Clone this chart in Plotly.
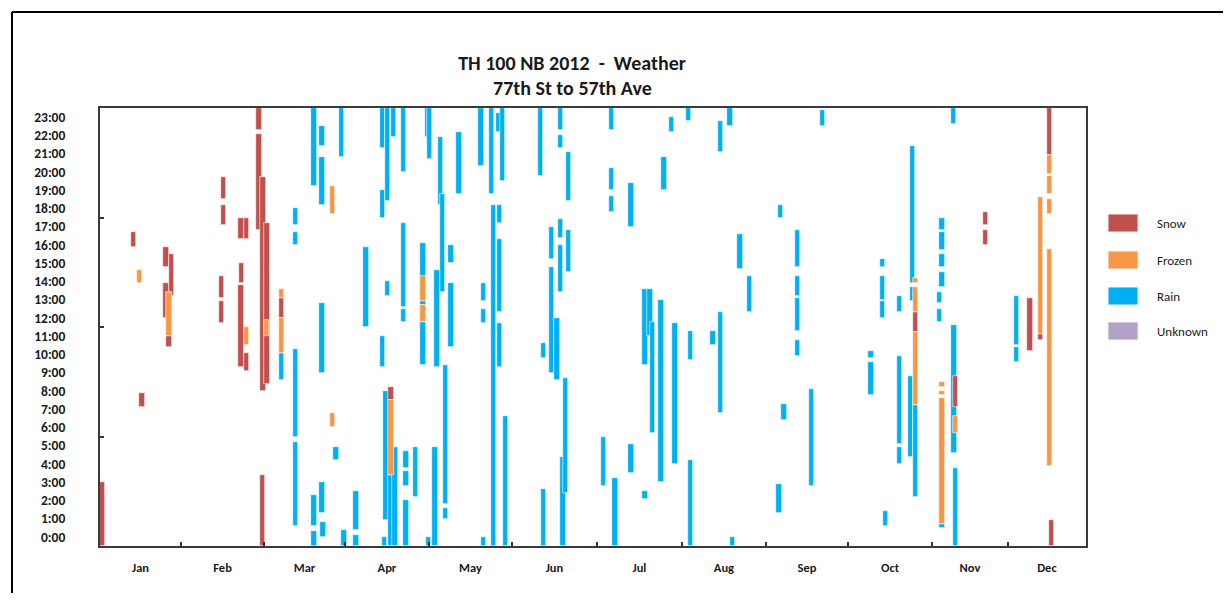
import plotly.graph_objects as go

# weather spells: (day of year, from hour, to hour)
snow_spells = [
    (0.7, 0, 3.5), (12.5, 16.4, 17.2), (15.6, 7.6, 8.4),
    (24.5, 15.3, 16.4), (24.5, 12.5, 14.4), (26.6, 13.7, 16.0), (25.6, 10.9, 11.5),
    (45.9, 19.0, 20.2), (45.9, 17.6, 18.7), (45.2, 13.6, 14.8), (45.2, 12.2, 13.4),
    (52.3, 16.8, 18.0), (54.4, 16.8, 18.0), (52.5, 14.4, 15.5), (52.3, 9.8, 14.3),
    (54.4, 9.6, 10.6),
    (59.0, 22.8, 24.0), (59.0, 17.3, 22.6), (60.5, 8.5, 20.2), (62.0, 8.9, 17.7),
    (60.3, 0, 3.9), (67.3, 12.5, 13.6),
    (108.0, 8.0, 8.7),
    (302.7, 11.7, 12.8), (302.7, 13.3, 13.4), (302.7, 13.7, 13.8),
    (317.6, 7.6, 9.3),
    (328.7, 17.6, 18.3), (328.7, 16.5, 17.3), (345.2, 10.7, 13.6),
    (349.0, 11.3, 11.6), (352.4, 21.4, 24.0), (353.2, 0, 1.4),
]

frozen_spells = [
    (14.6, 14.4, 15.1), (25.6, 11.5, 13.9), (54.4, 11.0, 12.0), (61.8, 11.5, 12.4),
    (67.3, 13.6, 14.1), (67.3, 10.6, 12.5), (86.4, 18.2, 19.7), (86.4, 6.5, 7.3),
    (108.0, 3.9, 8.0), (119.9, 13.4, 14.8), (119.9, 12.3, 13.2),
    (302.7, 14.4, 14.7), (302.7, 12.8, 14.2), (302.7, 7.7, 11.7),
    (312.6, 8.7, 9.0), (312.6, 8.3, 8.5), (312.6, 1.2, 8.1), (317.6, 6.2, 7.1),
    (349.0, 11.6, 19.1), (352.4, 20.4, 21.4), (352.4, 19.3, 20.3),
    (352.4, 18.2, 19.0), (352.4, 4.4, 16.3),
]

rain_spells = [
    # Mar
    (67.3, 9.1, 10.6), (72.5, 17.6, 18.5), (72.5, 16.5, 17.2), (72.5, 6.0, 10.8),
    (72.5, 1.1, 5.7), (79.5, 19.7, 24.0), (79.5, 1.1, 2.8), (79.5, 0, 0.8),
    (82.4, 21.9, 23.0), (82.4, 18.7, 21.3), (82.4, 9.5, 13.3), (82.4, 1.8, 3.5),
    (82.8, 0.5, 1.3), (87.6, 4.7, 5.4), (89.6, 21.3, 24.0), (90.6, 0, 0.9),
    (95.0, 0.9, 3.0), (95.0, 0, 0.6), (98.8, 12.0, 16.4),
    # Apr
    (104.8, 21.8, 24.0), (104.8, 18.0, 19.5), (106.8, 18.9, 24.0), (104.8, 9.8, 11.5),
    (106.8, 13.7, 14.5), (108.9, 22.4, 24.0), (106.2, 1.4, 8.5), (107.8, 0, 3.9),
    (109.5, 0, 5.4), (105.5, 0, 0.5), (112.7, 20.5, 24.0), (112.7, 13.1, 17.7),
    (112.7, 12.3, 13.0), (113.6, 4.3, 5.2), (113.6, 3.3, 4.1), (113.6, 0, 2.5),
    (117.1, 2.7, 5.4), (119.9, 14.7, 16.6), (119.9, 13.2, 13.4), (119.9, 9.9, 12.3),
    (121.5, 22.4, 24.0), (122.4, 21.2, 24.0), (122.0, 0, 0.5),
    # May
    (124.3, 0, 5.4), (126.4, 18.7, 22.4), (127.1, 13.9, 19.3), (125.1, 9.8, 15.1),
    (128.3, 2.3, 9.9), (128.3, 1.5, 2.1), (130.3, 15.5, 16.5), (130.3, 10.9, 14.4),
    (133.3, 19.3, 22.7), (141.4, 20.8, 24.0), (142.4, 13.4, 14.4), (142.4, 12.2, 13.0),
    (142.4, 0, 0.5), (145.3, 19.3, 24.0), (148.1, 22.7, 23.7), (149.3, 20.0, 24.0),
    (146.1, 0, 18.7), (148.3, 17.7, 18.7), (148.3, 12.8, 16.8), (148.3, 9.8, 12.2),
    (150.6, 0, 7.1),
    # Jun
    (163.6, 20.3, 24.0), (164.7, 10.3, 11.1), (164.7, 0, 3.1), (167.6, 15.7, 17.5),
    (167.6, 9.5, 15.3), (169.6, 9.1, 12.5), (170.9, 22.8, 24.0), (170.9, 21.8, 22.5),
    (170.9, 16.9, 17.9), (170.9, 13.9, 16.5), (171.9, 0, 4.9), (172.8, 2.9, 9.2),
    (173.8, 18.9, 21.6), (173.8, 15.0, 17.3),
    # Jul
    (186.9, 3.3, 6.0), (189.9, 22.8, 24.0), (189.9, 19.5, 20.7), (189.9, 18.3, 19.2),
    (191.1, 0, 3.7), (197.1, 17.5, 19.9), (197.1, 4.0, 5.6), (202.3, 2.6, 3.0),
    (202.3, 9.9, 14.1), (204.2, 11.5, 14.1), (205.0, 6.2, 12.3), (208.2, 3.5, 13.5),
    (209.4, 19.5, 21.3), (212.1, 22.7, 23.5), (213.4, 4.5, 12.2),
    # Aug
    (218.4, 23.3, 24.0), (219.3, 10.2, 11.8), (219.3, 0, 4.7), (227.6, 11.0, 11.8),
    (230.4, 21.6, 23.3), (230.4, 7.3, 12.8), (233.8, 23.0, 24.0), (234.8, 0, 0.5),
    (237.6, 15.2, 17.1), (241.0, 12.8, 14.8),
    # Sep
    (252.1, 1.8, 3.4), (252.7, 18.0, 18.7), (253.9, 6.9, 7.8), (259.0, 15.3, 17.3),
    (259.0, 13.7, 14.8), (259.0, 11.8, 13.6), (259.0, 10.4, 11.3), (264.0, 3.3, 8.6),
    (268.2, 23.0, 23.9),
    # Oct
    (286.2, 10.3, 10.7), (286.2, 8.3, 10.1), (290.5, 15.3, 15.7), (290.5, 13.5, 14.8),
    (290.5, 12.5, 13.4), (291.5, 1.1, 1.9), (296.7, 12.8, 13.7), (296.7, 5.6, 10.4),
    (296.7, 4.5, 5.4), (300.8, 4.9, 9.3), (301.7, 14.4, 21.9), (301.7, 13.4, 14.2),
    (302.7, 2.7, 7.7),
    # Nov / Dec
    (312.6, 17.3, 18.0), (312.6, 16.2, 17.2), (312.6, 15.3, 16.0), (312.6, 14.2, 15.0),
    (311.6, 13.3, 13.9), (311.6, 12.3, 13.0), (312.6, 1.0, 1.2), (312.6, 5.3, 5.5),
    (317.0, 5.1, 12.1), (317.6, 0, 4.3), (316.9, 23.1, 24.0),
    (340.1, 11.0, 13.7), (340.1, 10.1, 10.9),
]

categories = ["Snow", "Frozen", "Rain", "Unknown"]
colors = {"Snow": "#C0504D", "Frozen": "#F79646", "Rain": "#00B0F0", "Unknown": "#B3A2C7"}

months = ["Jan", "Feb", "Mar", "Apr", "May", "Jun", "Jul", "Aug", "Sep", "Oct", "Nov", "Dec"]
month_edges = [0, 30.1, 60.9, 90.9, 122.1, 152.9, 184.5, 216.0, 247.2, 277.7, 308.8, 337.0, 366]
hour_labels = ["%d:00" % h for h in range(24)]

FONT = "Carlito, Lato, sans-serif"

# the page body has an 8px margin all round, keep the figure inside the window
PAGE = 8
W, H = 1231 - PAGE, 603 - 2 * PAGE
# plot area in window pixels
L, R, T, B = 100, 1086, 108, 546


def xp(px):
    return (px - L) / (R - L)


def yp(py):
    return (B - py) / (B - T)


fig = go.Figure()

# rain first, frozen last so the mixed columns stack like the original
for name, spells in [("Rain", rain_spells), ("Snow", snow_spells), ("Frozen", frozen_spells)]:
    fig.add_trace(go.Bar(
        x=[s[0] for s in spells],
        y=[s[2] - s[1] for s in spells],
        base=[s[1] for s in spells],
        width=2.0,
        name=name,
        marker=dict(color=colors[name], line=dict(color="white", width=0.6)),
        showlegend=False,
    ))

mid_months = [(month_edges[i] + month_edges[i + 1]) / 2 for i in range(12)]

fig.update_xaxes(
    range=[0, 366], tickvals=mid_months, ticktext=months, ticks="",
    minor=dict(tickmode="array", tickvals=month_edges[1:-1], ticks="inside",
               ticklen=4, tickwidth=1.5, tickcolor="#333333"),
    showgrid=False, zeroline=False, showline=True, mirror=True,
    linecolor="#3a3a3a", linewidth=2, ticklabelstandoff=9,
    tickfont=dict(family=FONT, size=12.5, color="#1a1a1a", weight="bold"),
)
fig.update_yaxes(
    range=[0, 24], tickvals=[h + 0.5 for h in range(24)], ticktext=hour_labels, ticks="",
    minor=dict(tickmode="array", tickvals=[6, 12, 18], ticks="inside",
               ticklen=4, tickwidth=1.5, tickcolor="#333333"),
    showgrid=False, zeroline=False, showline=True, mirror=True,
    linecolor="#3a3a3a", linewidth=2, ticklabelstandoff=30,
    tickfont=dict(family=FONT, size=13.5, color="#1a1a1a", weight="bold"),
)

# legend drawn by hand to get the wide swatches
legend_top = [214, 251, 287, 322]
for name, top in zip(categories, legend_top):
    fig.add_shape(type="rect", xref="paper", yref="paper",
                  x0=xp(1108), x1=xp(1138), y0=yp(top + 18), y1=yp(top),
                  fillcolor=colors[name], line=dict(color="#f2f2f2", width=1))
    fig.add_annotation(xref="paper", yref="paper", x=xp(1155), y=yp(top + 9),
                       text=name, showarrow=False, xanchor="left", yanchor="middle",
                       font=dict(family=FONT, size=13, color="#1a1a1a"))

# outer frame (top and left edge), kept inside the figure so the page does not scroll
right_edge, bottom_edge = PAGE + W - 2, PAGE + H - 2
fig.add_shape(type="line", xref="paper", yref="paper",
              x0=xp(12), x1=xp(right_edge), y0=yp(12), y1=yp(12),
              line=dict(color="black", width=2))
fig.add_shape(type="line", xref="paper", yref="paper",
              x0=xp(12), x1=xp(12), y0=yp(12), y1=yp(bottom_edge),
              line=dict(color="black", width=2))

fig.add_annotation(xref="paper", yref="paper", x=xp(572), y=yp(88),
                   text="77th St to 57th Ave", showarrow=False, yanchor="middle",
                   font=dict(family=FONT, size=20, color="#1a1a1a", weight="bold"))

fig.update_layout(
    title=dict(text="TH 100 NB 2012  -  Weather", xref="paper", x=xp(572), xanchor="center",
               yref="container", y=1 - (63 - PAGE) / H, yanchor="middle",
               font=dict(family=FONT, size=20, color="#1a1a1a", weight="bold")),
    barmode="overlay",
    bargap=0,
    width=W, height=H,
    margin=dict(l=L - PAGE, r=W - (R - PAGE), t=T - PAGE, b=H - (B - PAGE)),
    paper_bgcolor="white", plot_bgcolor="white",
    showlegend=False,
)

fig.write_html("out.html")
